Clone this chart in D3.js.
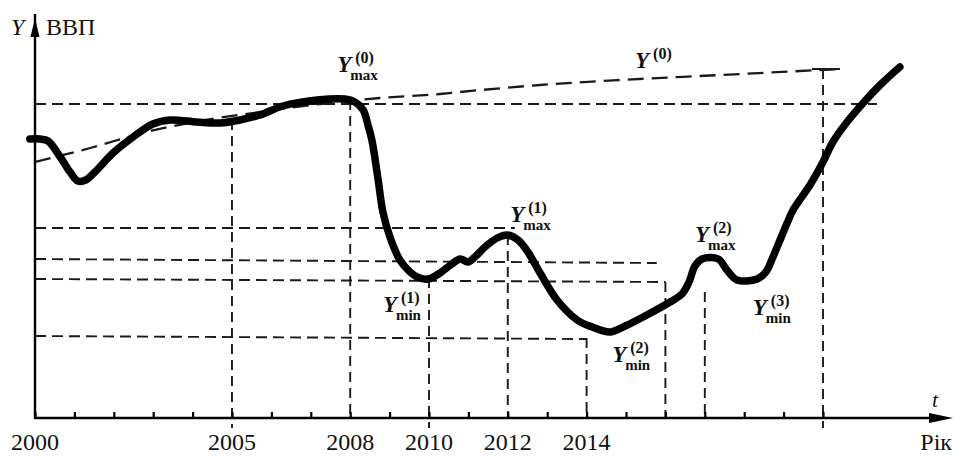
<!DOCTYPE html>
<html><head><meta charset="utf-8">
<script src="https://cdn.jsdelivr.net/npm/d3@7"></script>
<style>
html,body{margin:0;padding:0;background:#fff;}
svg{display:block;}
</style></head><body>
<div id="chart"></div>
<script>
// ---------- DATA ----------
const tickYears = d3.range(2000, 2021);
const labelYears = [2000, 2005, 2008, 2010, 2012, 2014];
const tickLabels = ["2000", "2005", "2008", "2010", "2012", "2014"];

// GDP curve (year, relative GDP level)
const gdpYears = [1999.87,2000.13,2000.33,2000.64,2000.89,2001.09,2001.29,2001.52,2001.98,2002.49,2002.99,2003.43,2004.11,2004.70,2005.20,2005.71,2006.29,2007.16,2007.87,2008.12,2008.33,2008.45,2008.55,2008.71,2008.83,2009.01,2009.26,2009.52,2009.70,2009.98,2010.28,2010.58,2010.79,2010.99,2011.19,2011.42,2011.73,2011.98,2012.26,2012.51,2012.82,2013.25,2013.76,2014.14,2014.59,2014.98,2015.48,2016.12,2016.42,2016.60,2016.75,2016.93,2017.34,2017.56,2017.82,2018.33,2018.55,2018.73,2018.91,2019.09,2019.24,2019.67,2020.00,2020.25,2020.61,2021.02,2021.45,2021.95];
const gdpValues = [69.75,69.75,69.25,65.25,61.5,59.25,59.5,61.5,66.25,70.25,73.5,74.5,74,73.75,74.5,75.75,78,79.5,79.75,79,77,73.25,69.5,59.5,51.5,45.25,39.5,36.5,35.25,34.75,36.25,38.5,39.75,39,40.5,42.75,45,45.75,44.5,41.5,36.25,29.5,24.5,22.75,21.5,23,25.5,29,31,34,38,39.75,39.75,37,34.5,34.75,36.5,40.25,44.5,48.75,52,58.25,64,69,74,78.75,83.25,87.75];

// Trend Y(0)
const trendYears = [2000,2001.40,2002.92,2004.19,2005.71,2007.23,2008.76,2010.28,2010.79,2012.82,2014.85,2017.39,2020.43];
const trendValues = [64,67.5,71.75,74.25,76.5,78.5,80,81,81.5,83.25,84.5,85.75,87.25];

// horizontal reference levels
const hStartValues = [78.5, 47.5, 39.75, 34.75, 20.5];
const hEndValues   = [78.5, 47.5, 38.75, 34.0, 19.75];
const hEndYears    = [2021.37, 2012.18, 2015.78, 2016.0, 2014.0];

// vertical reference lines
const vYears     = [2005, 2008, 2010, 2012, 2014, 2016, 2017, 2020];
const vTopValues = [74.5, 79.5, 35, 45.75, 20, 34.0, 31.5, 87.25];
const longTickYears = [2005, 2010, 2020];

// annotations
const annYears  = [2007.67, 2012.06, 2008.83, 2016.75, 2014.65, 2018.22, 2015.23];
const annValues = [86.5, 49, 26.5, 44, 14, 25.75, 87.5];
const annSup    = ["(0)", "(1)", "(1)", "(2)", "(2)", "(3)", "(0)"];
const annSub    = ["max", "max", "min", "max", "min", "min", ""];

// ---------- DRAWING ----------
const W = 954, H = 456;
const FONT = "'Liberation Serif', 'Times New Roman', Times, serif";
const svg = d3.select("#chart").append("svg").attr("width", W).attr("height", H)
  .attr("font-family", FONT);
svg.append("rect").attr("width", W).attr("height", H).attr("fill", "#fff");

const x = d3.scaleLinear().domain([2000, 2020]).range([35, 823]);
const y = d3.scaleLinear().domain([0, 100]).range([418, 18]);
const y0 = y(0);

const dash = {stroke: "#1a1a1a", width: 1.9, array: "11,6"};

// horizontal dashed lines
hStartValues.forEach((v, i) => {
  svg.append("line")
    .attr("x1", x(2000)).attr("y1", y(v))
    .attr("x2", x(hEndYears[i])).attr("y2", y(hEndValues[i]))
    .attr("stroke", dash.stroke).attr("stroke-width", dash.width)
    .attr("stroke-dasharray", dash.array);
});

// vertical dashed lines
vYears.forEach((yr, i) => {
  const ext = longTickYears.includes(yr) ? 10 : 0;
  svg.append("line")
    .attr("x1", x(yr)).attr("y1", y(vTopValues[i]))
    .attr("x2", x(yr)).attr("y2", y0 + ext)
    .attr("stroke", dash.stroke).attr("stroke-width", dash.width)
    .attr("stroke-dasharray", "10,6");
});

// trend line Y(0)
const trendLine = d3.line().x(d => x(d[0])).y(d => y(d[1])).curve(d3.curveMonotoneX);
svg.append("path")
  .attr("d", trendLine(d3.zip(trendYears, trendValues)))
  .attr("fill", "none").attr("stroke", "#1a1a1a").attr("stroke-width", 2.3)
  .attr("stroke-dasharray", "16,8");
const lastT = trendYears[trendYears.length - 1], lastV = trendValues[trendValues.length - 1];
svg.append("line")
  .attr("x1", x(lastT) - 28).attr("x2", x(lastT)).attr("y1", y(lastV)).attr("y2", y(lastV))
  .attr("stroke", "#1a1a1a").attr("stroke-width", 2);

// GDP curve
const gdpLine = d3.line().x(d => x(d[0])).y(d => y(d[1])).curve(d3.curveCatmullRom.alpha(0.5));
svg.append("path")
  .attr("d", gdpLine(d3.zip(gdpYears, gdpValues)))
  .attr("fill", "none").attr("stroke", "#000").attr("stroke-width", 7.5)
  .attr("stroke-linecap", "round").attr("stroke-linejoin", "round");

// axes
const axisX = d3.axisBottom(x).tickValues(tickYears).tickSize(0).tickFormat("");
const gx = svg.append("g").attr("transform", `translate(0,${y0})`).call(axisX);
gx.select(".domain").remove();
svg.append("line").attr("x1", x(2000)).attr("x2", 932).attr("y1", y0).attr("y2", y0)
  .attr("stroke", "#000").attr("stroke-width", 2.4);
svg.append("path").attr("d", `M929,${y0-5}L953,${y0}L929,${y0+5}Z`).attr("fill", "#000");
gx.selectAll(".tick").append("line").attr("y1", -6).attr("y2", 0)
  .attr("stroke", "#000").attr("stroke-width", 2.2);

svg.append("line").attr("x1", x(2000)).attr("x2", x(2000)).attr("y1", y0 + 1).attr("y2", 14)
  .attr("stroke", "#000").attr("stroke-width", 2.4);
svg.append("path").attr("d", `M${x(2000)},18L${x(2000)+4.5},37L${x(2000)-4.5},37Z`).attr("fill", "#000");

// tick labels
labelYears.forEach((yr, i) => {
  svg.append("text").attr("x", x(yr)).attr("y", 450)
    .attr("text-anchor", "middle").attr("font-size", 24).attr("fill", "#111").text(tickLabels[i]);
});
svg.append("text").attr("x", 952).attr("y", 450).attr("text-anchor", "end")
  .attr("font-size", 24).attr("fill", "#111").text("Рік");
svg.append("text").attr("x", 932).attr("y", 407).attr("font-size", 22)
  .attr("font-style", "italic").attr("fill", "#111").text("t");

// axis title
svg.append("text").attr("x", 11).attr("y", 35).attr("font-size", 24)
  .attr("font-style", "italic").attr("fill", "#111").text("Y");
svg.append("text").attr("x", 46).attr("y", 35).attr("font-size", 24).attr("fill", "#111").text("ВВП");

// annotations
annYears.forEach((yr, i) => {
  const px = x(yr), py = y(annValues[i]);
  const g = svg.append("g").attr("font-weight", "bold").attr("fill", "#111");
  g.append("text").attr("x", px).attr("y", py).attr("font-size", 23)
    .attr("font-style", "italic").text("Y");
  g.append("text").attr("x", px + 18).attr("y", py - 9).attr("font-size", 16).text(annSup[i]);
  if (annSub[i]) {
    g.append("text").attr("x", px + 13).attr("y", py + 8).attr("font-size", 15).text(annSub[i]);
  }
});
</script>
</body></html>
